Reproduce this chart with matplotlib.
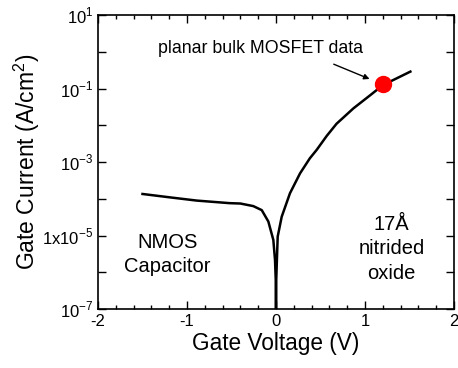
import matplotlib
matplotlib.use("Agg")
import matplotlib.pyplot as plt
from matplotlib.ticker import FixedLocator, FixedFormatter, MultipleLocator

plt.rcParams['font.family'] = ['Liberation Sans', 'DejaVu Sans']
plt.rcParams['mathtext.fontset'] = 'custom'
plt.rcParams['mathtext.rm'] = 'Liberation Sans'

voltage = [-1.5, -1.2, -0.89, -0.52, -0.40, -0.255, -0.16, -0.086, -0.03, -0.011, -0.003, 0.0,
           0.003, 0.01, 0.019, 0.064, 0.157, 0.27, 0.38, 0.457, 0.57, 0.68, 0.87, 1.06, 1.2, 1.3, 1.51]
log_current = [-3.87, -3.96, -4.05, -4.12, -4.13, -4.20, -4.31, -4.62, -5.12, -5.67, -6.2, -7.0,
               -6.2, -5.67, -5.03, -4.49, -3.85, -3.31, -2.90, -2.67, -2.29, -1.96, -1.54, -1.18, -0.91, -0.79, -0.54]
current = [10 ** v for v in log_current]
mosfet_v = [1.2]
mosfet_j = [0.13]

ytick_vals = [1e1, 1e-1, 1e-3, 1e-5, 1e-7]
ytick_labels = ['$10^{1}$', '$10^{-1}$', '$10^{-3}$', '$1\\mathrm{x}10^{-5}$', '$10^{-7}$']
xtick_vals = [-2, -1, 0, 1, 2]
xtick_labels = ['-2', '-1', '0', '1', '2']

fig = plt.figure(figsize=(4.58, 3.68), dpi=100)
ax = fig.add_axes([98/458, 1-309/368, (454-98)/458, (309-15)/368])

ax.plot(voltage, current, color='black', lw=1.8)
ax.plot(mosfet_v, mosfet_j, 'o', color='#ff0000', ms=11.5, zorder=5)

ax.set_yscale('log')
ax.set_xlim(-2, 2)
ax.set_ylim(1e-7, 1e1)

ax.yaxis.set_major_locator(FixedLocator(ytick_vals))
ax.yaxis.set_major_formatter(FixedFormatter(ytick_labels))
ax.yaxis.set_minor_locator(FixedLocator([1e0, 1e-2, 1e-4, 1e-6]))
ax.yaxis.set_minor_formatter(FixedFormatter([]))
ax.xaxis.set_major_locator(FixedLocator(xtick_vals))
ax.xaxis.set_major_formatter(FixedFormatter(xtick_labels))
ax.xaxis.set_minor_locator(MultipleLocator(0.2))

ax.tick_params(which='both', direction='in', top=True, right=True, labelsize=12, width=1)
ax.tick_params(which='major', length=6)
ax.tick_params(which='minor', length=3)
ax.tick_params(axis='y', which='minor', length=6)
for s in ax.spines.values():
    s.set_linewidth(1.2)

ax.set_xlabel('Gate Voltage (V)', fontsize=16.3, labelpad=2)
ax.set_ylabel('Gate Current (A/cm$^2$)', fontsize=16.5, labelpad=0)

ax.text(-0.17, 1.19, 'planar bulk MOSFET data', fontsize=12.8, ha='center', va='center')
ax.annotate('', xy=(1.08, 0.17), xytext=(0.62, 0.49),
            arrowprops=dict(arrowstyle='-|>', color='black', lw=1, mutation_scale=8))
ax.text(-1.22, 3e-6, 'NMOS\nCapacitor', fontsize=14.5, ha='center', va='center', linespacing=1.35)
ax.text(1.30, 4.3e-6, '17Å\nnitrided\noxide', fontsize=14.5, ha='center', va='center', linespacing=1.35)

fig.savefig('out.png', dpi=100)
